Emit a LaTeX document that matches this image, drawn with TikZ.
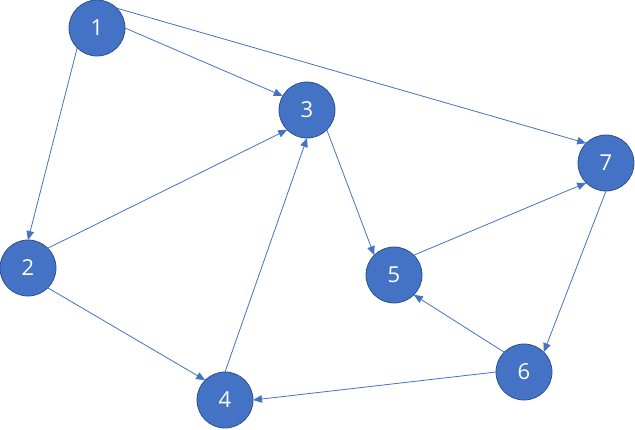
\documentclass[tikz,border=0pt]{standalone}
\usepackage{fontspec}
\setmainfont{Open Sans}
\usetikzlibrary{arrows.meta}

\definecolor{nodeblue}{HTML}{4472C4}
\definecolor{rimblue}{HTML}{2F528F}

\begin{document}
\begin{tikzpicture}[x=1pt,y=-1pt]
            \tikzstyle{vertex}=[circle,fill=nodeblue,draw=rimblue,line width=0.8pt,
            minimum size=56pt,inner sep=0pt,outer sep=0pt,text=white,
            font=\fontsize{22}{26}\selectfont]
            \tikzstyle{edge}=[draw=nodeblue,line width=0.8pt,
            -{Triangle[length=9pt,width=7.5pt]}]

            \useasboundingbox (0,0) rectangle (635,429);

            \node [vertex] (v1) at (97,28) {1};
            \node [vertex] (v2) at (28,268) {2};
            \node [vertex] (v3) at (307,110) {3};
            \node [vertex] (v4) at (225,400) {4};
            \node [vertex] (v5) at (394,275) {5};
            \node [vertex] (v6) at (524,372) {6};
            \node [vertex] (v7) at (606,163) {7};

            \draw [edge] (v1.south west) -- (v2.north);
            \draw [edge] (v1.east) -- (v3.150);
            \draw [edge] (v1.north east) -- (v7.north west);
            \draw [edge] (v2.north east) -- (v3.south west);
            \draw [edge] (v2.south east) -- (v4.north west);
            \draw [edge] (v4.north) -- (v3.south);
            \draw [edge] (v3.south east) -- (v5.north west);
            \draw [edge] (v5.north east) -- (v7.south west);
            \draw [edge] (v7.south) -- (v6.north east);
            \draw [edge] (v6.north west) -- (v5.south east);
            \draw [edge] (v6.west) -- (v4.east);
        \end{tikzpicture}
\end{document}
